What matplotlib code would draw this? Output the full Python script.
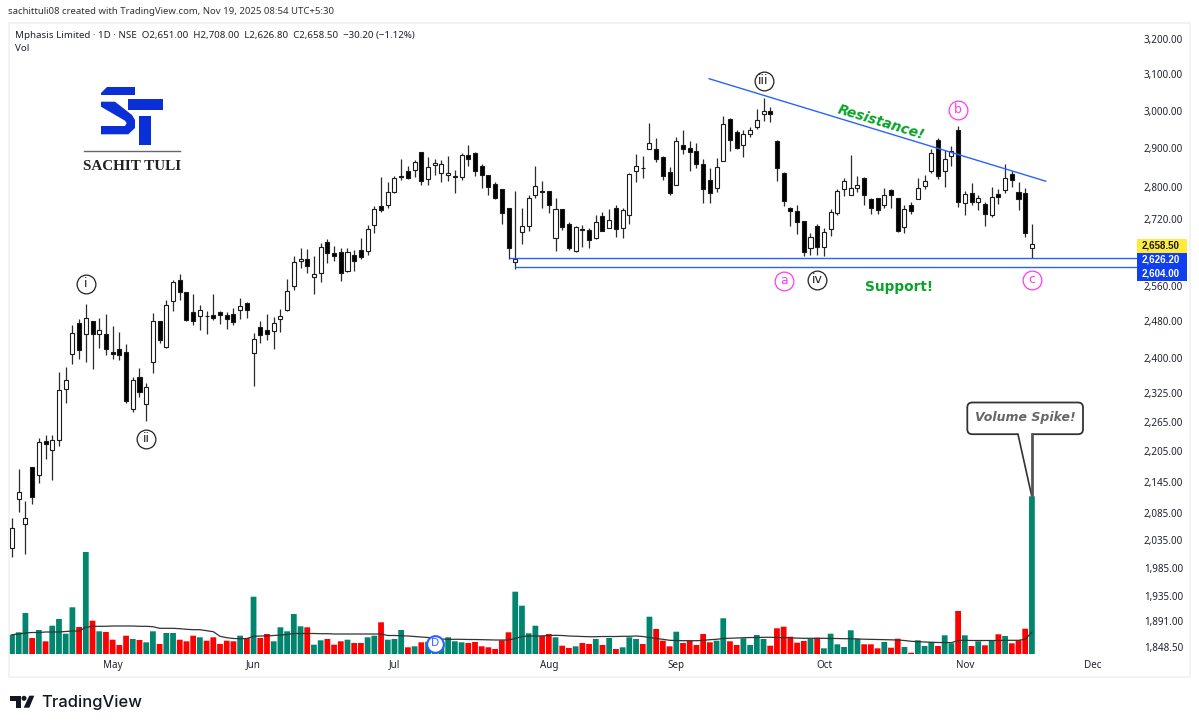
import matplotlib
matplotlib.use("Agg")
import matplotlib.pyplot as plt
from matplotlib.patches import Rectangle, Polygon, FancyBboxPatch, Circle

# ----------------------------------------------------
# 1. DATA
# ----------------------------------------------------
opens = [
    2021, 2113, 2065, 2175, 2159, 2225, 2208, 2227, 2333, 2407,
    2477, 2451, 2481, 2451, 2452, 2413, 2418, 2413, 2292, 2358,
    2302, 2390, 2481, 2423, 2527, 2575, 2547, 2500, 2492, 2492,
    2494, 2502, 2494, 2497, 2506, 2522, 2411, 2468, 2461, 2459,
    2486, 2506, 2561, 2620, 2625, 2581, 2590, 2665, 2637, 2641,
    2595, 2634, 2646, 2644, 2706, 2753, 2755, 2787, 2828, 2842,
    2843, 2889, 2820, 2856, 2836, 2831, 2828, 2826, 2882, 2888,
    2855, 2831, 2808, 2795, 2747, 2617, 2689, 2703, 2781, 2789,
    2789, 2673, 2746, 2707, 2644, 2697, 2694, 2673, 2729, 2699,
    2747, 2698, 2731, 2842, 2848, 2898, 2899, 2878, 2838, 2805,
    2909, 2900, 2892, 2860, 2818, 2797, 2866, 2977, 2944, 2908,
    2937, 2955, 2992, 3000, 2919, 2837, 2748, 2740, 2715, 2650,
    2703, 2653, 2696, 2734, 2795, 2780, 2797, 2824, 2769, 2772,
    2755, 2793, 2772, 2701, 2754, 2771, 2802, 2842, 2923, 2841,
    2879, 2949, 2761, 2784, 2762, 2758, 2731, 2783, 2792, 2833,
    2787, 2784, 2651,
]
highs = [
    2077, 2170, 2108, 2175, 2231, 2238, 2238, 2369, 2380, 2472,
    2486, 2519, 2481, 2488, 2496, 2470, 2457, 2429, 2358, 2377,
    2346, 2498, 2481, 2529, 2575, 2588, 2547, 2542, 2516, 2503,
    2542, 2503, 2501, 2510, 2533, 2523, 2453, 2481, 2497, 2490,
    2508, 2577, 2631, 2649, 2647, 2631, 2663, 2671, 2655, 2649,
    2651, 2645, 2674, 2706, 2752, 2825, 2812, 2828, 2872, 2853,
    2870, 2889, 2877, 2872, 2870, 2879, 2843, 2888, 2908, 2891,
    2860, 2832, 2812, 2795, 2748, 2789, 2748, 2781, 2855, 2815,
    2791, 2773, 2746, 2714, 2703, 2705, 2698, 2731, 2737, 2746,
    2754, 2748, 2836, 2885, 2879, 2966, 2928, 2879, 2851, 2930,
    2947, 2918, 2913, 2873, 2848, 2874, 2985, 2980, 2947, 2947,
    2957, 3006, 3035, 3011, 2923, 2838, 2750, 2756, 2715, 2687,
    2707, 2698, 2744, 2795, 2822, 2883, 2828, 2825, 2772, 2773,
    2798, 2795, 2773, 2755, 2763, 2823, 2831, 2897, 2928, 2895,
    2905, 2958, 2790, 2811, 2781, 2763, 2801, 2795, 2858, 2842,
    2813, 2798, 2708,
]
lows = [
    2004, 2087, 2010, 2103, 2143, 2190, 2149, 2216, 2304, 2387,
    2397, 2390, 2375, 2421, 2405, 2397, 2396, 2304, 2284, 2316,
    2266, 2366, 2433, 2421, 2504, 2528, 2480, 2473, 2460, 2451,
    2484, 2475, 2464, 2471, 2486, 2487, 2339, 2431, 2439, 2418,
    2456, 2503, 2552, 2602, 2592, 2541, 2569, 2615, 2618, 2573,
    2594, 2596, 2625, 2634, 2686, 2738, 2747, 2785, 2817, 2821,
    2826, 2806, 2806, 2830, 2813, 2815, 2784, 2817, 2855, 2828,
    2798, 2780, 2769, 2708, 2625, 2601, 2660, 2690, 2772, 2747,
    2736, 2642, 2693, 2646, 2641, 2653, 2650, 2671, 2690, 2698,
    2677, 2675, 2707, 2813, 2823, 2897, 2864, 2819, 2781, 2804,
    2886, 2841, 2849, 2759, 2759, 2787, 2866, 2894, 2899, 2878,
    2929, 2950, 2971, 2969, 2815, 2753, 2703, 2684, 2631, 2634,
    2634, 2631, 2679, 2731, 2777, 2779, 2787, 2756, 2732, 2732,
    2747, 2747, 2689, 2687, 2733, 2770, 2794, 2836, 2820, 2800,
    2854, 2751, 2730, 2755, 2742, 2703, 2725, 2757, 2785, 2800,
    2743, 2677, 2626.8,
]
closes = [
    2058, 2125, 2076, 2117, 2224, 2220, 2228, 2331, 2352, 2455,
    2416, 2487, 2452, 2461, 2418, 2409, 2405, 2308, 2352, 2326,
    2338, 2481, 2439, 2518, 2570, 2546, 2482, 2481, 2505, 2491,
    2487, 2494, 2486, 2478, 2514, 2506, 2440, 2449, 2452, 2476,
    2492, 2549, 2617, 2625, 2608, 2589, 2653, 2638, 2632, 2592,
    2641, 2619, 2628, 2697, 2746, 2742, 2788, 2822, 2826, 2823,
    2865, 2815, 2850, 2862, 2859, 2837, 2826, 2882, 2873, 2841,
    2831, 2801, 2773, 2736, 2650, 2625, 2703, 2773, 2803, 2788,
    2755, 2746, 2702, 2651, 2701, 2694, 2670, 2714, 2692, 2718,
    2696, 2742, 2833, 2853, 2849, 2915, 2872, 2828, 2784, 2920,
    2899, 2891, 2859, 2795, 2785, 2850, 2965, 2923, 2901, 2937,
    2949, 2975, 3000, 2991, 2849, 2764, 2739, 2713, 2641, 2677,
    2653, 2689, 2737, 2789, 2816, 2797, 2805, 2780, 2747, 2743,
    2781, 2781, 2692, 2746, 2739, 2798, 2816, 2887, 2828, 2873,
    2892, 2762, 2783, 2763, 2773, 2732, 2775, 2774, 2823, 2819,
    2770, 2686, 2658.5,
]

# volume has no scale on the chart, so these are relative units
volumes = [
    19.3, 21.7, 41, 16, 24, 12.7, 28.3, 35, 20.3, 46.7,
    27, 102, 33.3, 22.7, 22, 14.3, 9, 18.3, 15, 14,
    11.7, 22.7, 10, 21, 21, 14.3, 12.7, 18.3, 16.7, 13.3,
    16.7, 10, 13.3, 12.7, 18.3, 16, 57.3, 16, 20, 12.7,
    26.7, 22.7, 40, 27.7, 26.7, 9.3, 13.7, 15, 9.3, 12.7,
    14.3, 11, 11, 16.7, 18.3, 31.7, 14.3, 15, 24, 6.7,
    7.7, 11.7, 12.3, 5.7, 10.7, 16.7, 12.7, 11.7, 11, 12,
    7.7, 6.7, 5, 13.7, 21.7, 62.3, 48.3, 20.7, 28.3, 18.3,
    20, 16.7, 8.3, 6, 7.7, 11, 10, 15, 9, 16,
    5, 6.7, 16.7, 15, 10, 37.3, 25, 13.3, 7.7, 22.3,
    11, 13.3, 9, 20, 11.7, 13.3, 35.7, 12.7, 9, 15.7,
    9, 19, 15, 8.3, 25.7, 27.3, 17.3, 11.3, 13, 15.3,
    16.3, 5.7, 20.3, 9.7, 7, 23.7, 15.3, 9.7, 9.7, 5.7,
    12, 6.3, 15.3, 7, 1.3, 13.7, 8, 12, 8, 18.7,
    10.7, 43, 18.7, 8, 12.7, 8.7, 13.7, 19.7, 18, 10.7,
    13.7, 25.3, 157.7,
]
vol_ma = [
    19.3, 20, 21, 21.5, 21.5, 22, 22, 22, 22.5, 23,
    23, 26.7, 27.7, 27.7, 27.7, 28, 28, 28, 28, 27.7,
    27.7, 27.3, 25.7, 25.7, 25.7, 25.3, 24.7, 24.3, 24.3, 23.3,
    22.3, 17.7, 16.3, 15.5, 15.3, 15.5, 17.7, 18, 18, 18.5,
    19, 19.5, 20.5, 20.5, 20.5, 20.5, 20.3, 20.3, 20, 20,
    20, 20, 20, 20, 20, 20, 18.5, 18.5, 18.3, 18,
    17.5, 17, 16.5, 15.5, 15, 14.7, 14.7, 14.7, 14.5, 14.5,
    14.3, 14, 14, 14, 14, 15.5, 17.5, 18, 18, 18,
    18.5, 18.7, 18.5, 18, 17.7, 17.5, 17.3, 17.3, 17.5, 17.5,
    17.5, 17.7, 17.7, 18, 17.5, 16.5, 15.5, 14.7, 13.7, 13.5,
    13.3, 13.3, 13.3, 13.7, 14.3, 14.7, 15.5, 15.7, 16, 16.3,
    16.5, 16.5, 16.7, 16.7, 16.5, 16.3, 16, 15.8, 15.7, 15.7,
    15.7, 15.7, 15.5, 15.5, 15.3, 15.3, 15, 14.8, 14.7, 14.5,
    14.3, 14, 14, 13.5, 12.7, 12.3, 12, 11.7, 11.5, 11.5,
    11.3, 13.5, 13.7, 13.5, 13.5, 13.5, 13.5, 13.5, 13.7, 13.7,
    13.7, 14.7, 22,
]
vol_dirs = list(
    "GGGRGRGGGG" "RGRGRRRRGR" "GGRGGRRRGR" "RRRRGRGRRG" "GGGGRGGRRR"
    "GRRGGRGGGR" "GRGGGGGGRR" "RRRRRGGGGR" "RGRRGRRGRG" "RGGGRGRRRG"
    "RRRRRGGRRG" "GGGRRRRRRG" "RGGGGGGRRR" "GRRGRGGGRG" "GRGRGRGRGR"
    "RRG"
)

month_pos = [15, 36, 57, 80, 99, 121, 142, 161]
month_labels = ["May", "Jun", "Jul", "Aug", "Sep", "Oct", "Nov", "Dec"]
price_ticks = [3200, 3100, 3000, 2900, 2800, 2720, 2560, 2480, 2400, 2325,
               2265, 2205, 2145, 2085, 2035, 1985, 1935, 1891, 1848.5]

support_hi = 2626.2
support_lo = 2604
resistance_x = [103.9, 154.05]
resistance_y = [3088, 2815]

wave_x = [11, 20, 112, 120, 115, 141, 152]
wave_y = [2566, 2230, 3083, 2575, 2573, 3003, 2575]
wave_txt = ["i", "ii", "iii", "iv", "a", "b", "c"]
wave_col = ["#222222", "#222222", "#222222", "#222222", "#ff3bf0", "#ff3bf0", "#ff3bf0"]

# ----------------------------------------------------
# 2. FIGURE AND AXES
# ----------------------------------------------------
W, H = 1199, 727
BLUE = "#2962ff"
GREEN = "#00866e"
RED = "#ff0000"
plt.rcParams["font.family"] = ["Noto Sans", "DejaVu Sans"]

fig = plt.figure(figsize=(W / 100, H / 100), dpi=100, facecolor="white")

# full-figure layer in pixels for the border, logos and callout
ov = fig.add_axes([0, 0, 1, 1], zorder=5)
ov.set_xlim(0, W)
ov.set_ylim(H, 0)
ov.axis("off")

box = [9 / W, (H - 654) / H, (1137 - 9) / W, 631 / H]
ax_vol = fig.add_axes(box, zorder=1)
ax = fig.add_axes(box, zorder=2)
ax.patch.set_alpha(0)
for a in (ax, ax_vol):
    for s in a.spines.values():
        s.set_visible(False)
    a.set_xlim(-0.447, 167.66)

# ----------------------------------------------------
# 3. VOLUME
# ----------------------------------------------------
x = list(range(len(closes)))
bar_cols = [GREEN if d == "G" else RED for d in vol_dirs]
vol_bars = ax_vol.bar(x, volumes, width=0.86, color=bar_cols, linewidth=0)
for b in vol_bars:
    b.set_snap(False)
ax_vol.plot(x, vol_ma, color="#333333", lw=0.9)
ax_vol.set_ylim(0, 631)
ax_vol.set_yticks([])
ax_vol.set_xticks([])
ax_vol.plot([63], [10.3], "o", ms=12, mfc="white", mec=BLUE, mew=1.5, zorder=4)
ax_vol.text(63, 10.3, "D", color=BLUE, fontsize=8, ha="center", va="center", zorder=5)

# ----------------------------------------------------
# 4. CANDLES
# ----------------------------------------------------
ax.set_yscale("log")
ax.set_ylim(1836.2, 3247.5)
ax.vlines(x, lows, highs, color="#2b2b2b", lw=0.9, zorder=2)
body_low = [min(o, c) for o, c in zip(opens, closes)]
body_size = [abs(o - c) for o, c in zip(opens, closes)]
body_col = ["white" if c >= o else "black" for o, c in zip(opens, closes)]
ax.bar(x, body_size, bottom=body_low, width=0.6, color=body_col,
       edgecolor="#1a1a1a", linewidth=0.8, zorder=3)

ax.plot(resistance_x, resistance_y, color=BLUE, lw=1, zorder=4)
ax.hlines(support_hi, 74, 167.66, color=BLUE, lw=1, zorder=4)
ax.hlines(support_lo, 75, 167.66, color=BLUE, lw=1, zorder=4)

ax.yaxis.tick_right()
ax.set_yticks(price_ticks)
ax.set_yticklabels([f"{p:,.2f}" for p in price_ticks])
ax.minorticks_off()
ax.tick_params(axis="y", which="both", length=0, pad=5, labelsize=7.1, labelcolor="#1e222d")
ax.set_xticks(month_pos)
ax.set_xticklabels(month_labels)
ax.tick_params(axis="x", length=0, pad=4, labelsize=7.1, labelcolor="#1e222d")

# wave labels
for wx, wy, wt, wc in zip(wave_x, wave_y, wave_txt, wave_col):
    ax.plot([wx], [wy], "o", ms=13.5, mfc="white", mec=wc, mew=0.9, zorder=6)
    ax.text(wx, wy, wt, color=wc, family="DejaVu Sans", fontsize=9, ha="center",
            va="center", zorder=7)

# ----------------------------------------------------
# 5. TEXT, TAGS, LOGOS
# ----------------------------------------------------
ov.add_patch(Rectangle((8.5, 22.5), 1181.5, 654.5, fill=False, ec="#f0f1f4", lw=1.2))

ov.text(8, 12, "sachittuli08 created with TradingView.com, Nov 19, 2025 08:54 UTC+5:30",
        fontsize=6.9, color="#333333", va="center")
ov.text(15, 35, "Mphasis Limited · 1D · NSE  O2,651.00  H2,708.00  L2,626.80  C2,658.50  −30.20 (−1.12%)",
        fontsize=7, color="#1e222d", va="center")
ov.text(15, 48.5, "Vol", fontsize=7, color="#1e222d", va="center")

# price tags on the right scale
for top, bot, fc, tc, lab in [(239, 252.8, "#ffeb3b", "#131722", "2,658.50"),
                              (253, 266.6, "#0f3fef", "white", "2,626.20"),
                              (266.8, 281, "#0f3fef", "white", "2,604.00")]:
    ov.add_patch(Rectangle((1137, top), 49.5, bot - top, fc=fc, ec="none"))
    ov.text(1142, (top + bot) / 2, lab, color=tc, family="Liberation Sans", fontweight="bold",
            fontsize=7, va="center")

# ST logo
LOGO = "#0a2fd6"
for pts in [
    [(107, 87.3), (135.3, 87.3), (135.3, 95.3), (101, 95.3), (101, 93)],
    [(128.3, 98.7), (163.3, 98.7), (163.3, 110.3), (128.3, 110.3)],
    [(101, 101.7), (115, 101.7), (132, 115), (135, 120), (135, 128), (128.3, 134.3),
     (101, 134.3), (101, 126), (125, 126), (126.7, 123), (125, 120.7), (101, 106.7)],
    [(139, 116.3), (150.7, 116.3), (150.7, 145), (139, 145)],
]:
    ov.add_patch(Polygon(pts, closed=True, fc=LOGO, ec="none"))
ov.plot([84, 180], [151, 151], color="#666666", lw=1)
ov.text(132, 166, "SACHIT TULI", family="Liberation Serif", fontweight="bold",
        fontsize=10.9, color="#222222", ha="center", va="center")

# annotations
ov.text(881, 122.5, "Resistance!", color="#0aa32a", family="DejaVu Sans", fontsize=10,
        fontweight="bold", fontstyle="italic", rotation=-17, ha="center", va="center",
        rotation_mode="anchor")
ov.text(899.5, 286.5, "Support!", color="#0aa32a", family="DejaVu Sans", fontsize=9.8,
        fontweight="bold", ha="center", va="center")

# callout over the volume spike
ov.add_patch(FancyBboxPatch((967.3, 402.5), 115.7, 31.7, boxstyle="round,pad=0,rounding_size=5",
                            fc="white", ec="#333333", lw=1.3, zorder=6))
ov.add_patch(Polygon([(1018, 433), (1032, 433), (1031.7, 495)], closed=True, fc="white",
                     ec="none", zorder=7))
ov.plot([1018, 1031.5], [434.3, 495], color="#333333", lw=1.2, zorder=8)
ov.plot([1031.7, 1031.7], [434.3, 495], color="#555555", lw=2, zorder=8)
ov.text(1025.8, 417.5, "Volume Spike!", color="#666666", family="DejaVu Sans", fontsize=9,
        fontweight="bold", fontstyle="italic", ha="center", va="center", zorder=9)

# TradingView footer
ov.add_patch(Polygon([(10, 695.7), (20.7, 695.7), (20.7, 707.7), (15.7, 707.7), (15.7, 700.7), (10, 700.7)],
                     closed=True, fc="#131722", ec="none"))
ov.add_patch(Circle((24, 698.3), 2.5, fc="#131722", ec="none"))
ov.add_patch(Polygon([(29.3, 695.7), (34.3, 695.7), (29.3, 707.7), (23.7, 707.7)], closed=True,
                     fc="#131722", ec="none"))
ov.text(41, 702, "TradingView", family="Inter", fontsize=11.9, fontweight="medium",
        color="#131722", va="center")

# ----------------------------------------------------
# 6. SAVE
# ----------------------------------------------------
fig.savefig("out.png", dpi=100, facecolor="white")
